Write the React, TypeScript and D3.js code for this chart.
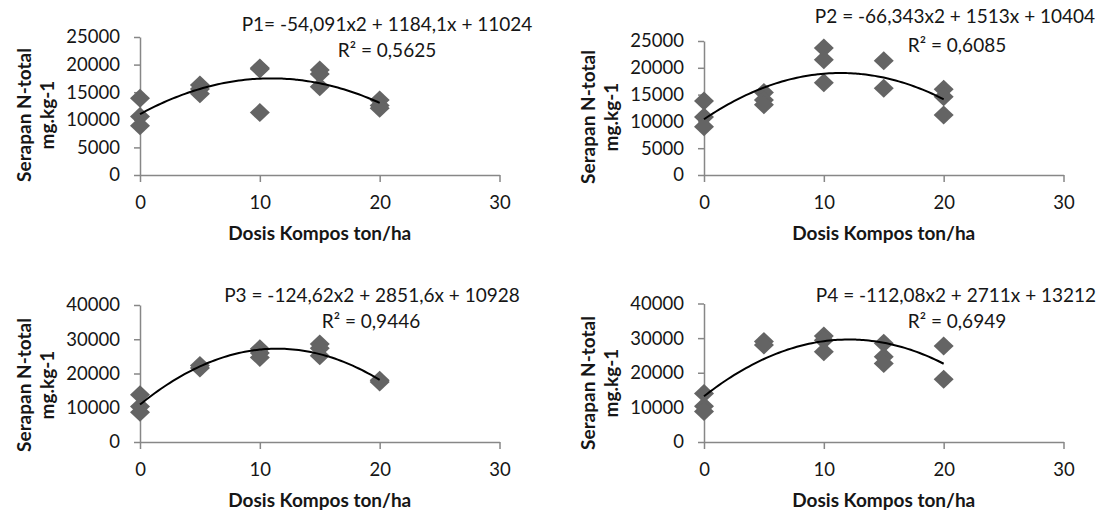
import { useEffect, useRef } from "react";
import * as d3 from "d3";

// dose levels (ton/ha) and replicate readings per dose
const doses = [0, 5, 10, 15, 20];
const xTicks = [0, 10, 20, 30];
const yTicksLow = [0, 5000, 10000, 15000, 20000, 25000];
const yTicksHigh = [0, 10000, 20000, 30000, 40000];

const p1Values = [[13900, 10600, 8900], [16300, 15600, 14700], [19400, 19200, 11300], [19000, 18300, 16000], [13600, 12600, 12100]];
const p2Values = [[13800, 10800, 9000], [15400, 14000, 13100], [23700, 21500, 17200], [21300, 16200], [16000, 14600, 11200]];
const p3Values = [[13800, 10400, 8700], [22300, 21600], [27200, 26000, 24700], [28600, 27400, 25200], [18000, 17500]];
const p4Values = [[14000, 10300, 8800], [29000, 28000], [30600, 29400, 26100], [28500, 24600, 22700], [27700, 18100]];

// trendline coefficients [a, b, c] for y = a x^2 + b x + c
const p1Coef = [-54.091, 1184.1, 11024];
const p2Coef = [-66.343, 1513, 10404];
const p3Coef = [-124.62, 2851.6, 10928];
const p4Coef = [-112.08, 2711, 13212];

const equations = [
    "P1= -54,091x2 + 1184,1x + 11024",
    "P2 = -66,343x2 + 1513x + 10404",
    "P3 = -124,62x2 + 2851,6x + 10928",
    "P4 = -112,08x2 + 2711x + 13212",
];
const rSquared = ["R² = 0,5625", "R² = 0,6085", "R² = 0,9446", "R² = 0,6949"];

const xTitle = "Dosis Kompos ton/ha";
const yTitle1 = "Serapan N-total";
const yTitle2 = "mg.kg-1";

const FONT = "Lato, 'Open Sans', sans-serif";
const TEXT = "#161616";
const AXIS = "#878787";
const MARK = "#646464";

const panels = [
    { values: p1Values, coef: p1Coef, eq: equations[0], r2: rSquared[0], yMax: 25000, yTicks: yTicksLow,
      x0: 140, x1: 499.5, y0: 175, y1: 37, eqX: 387, eqY: 31, r2X: 387, r2Y: 56.5, titleY: 115 },
    { values: p2Values, coef: p2Coef, eq: equations[1], r2: rSquared[1], yMax: 25000, yTicks: yTicksLow,
      x0: 704, x1: 1063.5, y0: 175, y1: 41, eqX: 955, eqY: 23, r2X: 957, r2Y: 51.5, titleY: 117 },
    { values: p3Values, coef: p3Coef, eq: equations[2], r2: rSquared[2], yMax: 40000, yTicks: yTicksHigh,
      x0: 140, x1: 499.5, y0: 442, y1: 305, eqX: 372, eqY: 301.5, r2X: 371, r2Y: 328, titleY: 385 },
    { values: p4Values, coef: p4Coef, eq: equations[3], r2: rSquared[3], yMax: 40000, yTicks: yTicksHigh,
      x0: 704, x1: 1063.5, y0: 442, y1: 303.5, eqX: 956, eqY: 301.5, r2X: 957, r2Y: 328, titleY: 383 },
];

const App = () => {
    const ref = useRef<SVGSVGElement | null>(null);

    useEffect(() => {
        const svg = d3.select(ref.current);
        svg.selectAll("*").remove();

        panels.forEach((p) => {
            const g = svg.append("g");

            const x = d3.scaleLinear().domain([0, 30]).range([p.x0, p.x1]);
            const y = d3.scaleLinear().domain([0, p.yMax]).range([p.y0, p.y1]);

            // y axis
            const yAxis = g.append("g")
                .attr("transform", `translate(${p.x0},0)`)
                .call(d3.axisLeft(y).tickValues(p.yTicks).tickFormat(d3.format("d")).tickSize(6).tickSizeOuter(0).tickPadding(14));

            // x axis
            const xAxis = g.append("g")
                .attr("transform", `translate(0,${p.y0})`)
                .call(d3.axisBottom(x).tickValues(xTicks).tickSize(7).tickSizeOuter(0).tickPadding(14));

            [yAxis, xAxis].forEach((a) => {
                a.select(".domain").attr("stroke", AXIS).attr("stroke-width", 1.5);
                a.selectAll(".tick line").attr("stroke", AXIS).attr("stroke-width", 1.5);
                a.selectAll(".tick text")
                    .attr("fill", TEXT)
                    .attr("font-family", FONT)
                    .attr("font-size", 18.5);
            });

            // points
            const pts = p.values.flatMap((vals, i) => vals.map((v) => ({ dose: doses[i], value: v })));
            g.selectAll(".dot")
                .data(pts)
                .enter().append("path")
                .attr("class", "dot")
                .attr("d", "M0,-9.5L10,0L0,9.5L-10,0Z")
                .attr("transform", (d) => `translate(${x(d.dose)},${y(d.value)})`)
                .attr("fill", MARK);

            // polynomial trendline
            const [a, b, c] = p.coef;
            const curveX = d3.range(0, 20.01, 0.25);
            const line = d3.line<number>()
                .x((d) => x(d))
                .y((d) => y(a * d * d + b * d + c))
                .curve(d3.curveMonotoneX);
            g.append("path")
                .datum(curveX)
                .attr("d", line)
                .attr("fill", "none")
                .attr("stroke", "#000")
                .attr("stroke-width", 2);

            // equation labels
            g.append("text")
                .attr("x", p.eqX).attr("y", p.eqY)
                .attr("text-anchor", "middle")
                .attr("font-family", FONT).attr("font-size", 19).attr("fill", TEXT)
                .text(p.eq);
            g.append("text")
                .attr("x", p.r2X).attr("y", p.r2Y)
                .attr("text-anchor", "middle")
                .attr("font-family", FONT).attr("font-size", 19).attr("fill", TEXT)
                .text(p.r2);

            // x title
            g.append("text")
                .attr("x", (p.x0 + p.x1) / 2)
                .attr("y", p.y0 + 65)
                .attr("text-anchor", "middle")
                .attr("font-family", FONT).attr("font-size", 19).attr("font-weight", "bold").attr("fill", TEXT)
                .text(xTitle);

            // y title, two lines
            const ty = g.append("text")
                .attr("transform", `translate(${p.x0 - 109},${p.titleY}) rotate(-90)`)
                .attr("text-anchor", "middle")
                .attr("font-family", FONT).attr("font-size", 19).attr("font-weight", "bold").attr("fill", TEXT);
            ty.append("tspan").attr("x", 0).attr("y", 0).text(yTitle1);
            ty.append("tspan").attr("x", 0).attr("y", 23).text(yTitle2);
        });
    }, []);

    return (
        <svg
            ref={ref}
            width={1101}
            height={515}
            style={{ position: "absolute", left: 0, top: 0, background: "#fff" }}
        />
    );
};

export default App;
